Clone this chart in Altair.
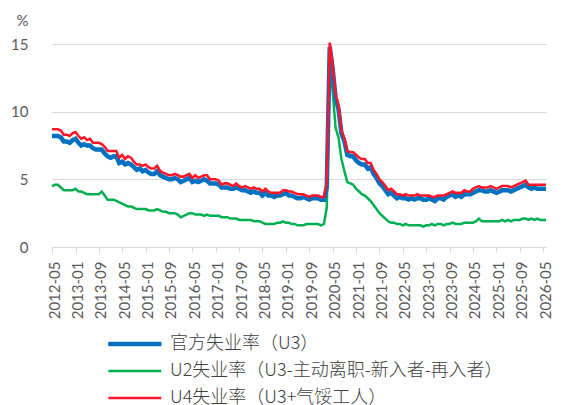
import altair as alt
import pandas as pd

# Monthly categories 2012-05 .. 2026-06
months = [d.strftime("%Y-%m-%d") for d in pd.date_range("2012-05-01", "2026-06-01", freq="MS")]

tick_labels = ["2012-05", "2013-01", "2013-09", "2014-05", "2015-01", "2015-09", "2016-05",
               "2017-01", "2017-09", "2018-05", "2019-01", "2019-09", "2020-05", "2021-01",
               "2021-09", "2022-05", "2023-01", "2023-09", "2024-05", "2025-01", "2025-09",
               "2026-05"]

# 官方失业率 U3
u3 = [
    8.2, 8.2, 8.2, 8.1, 7.8, 7.8, 7.7, 7.9,
    8.0, 7.7, 7.5, 7.6, 7.5, 7.5, 7.3, 7.2, 7.2, 7.2, 6.9, 6.7,
    6.6, 6.7, 6.7, 6.2, 6.3, 6.1, 6.2, 6.1, 5.9, 5.7, 5.8, 5.6,
    5.7, 5.5, 5.4, 5.4, 5.6, 5.3, 5.2, 5.1, 5.0, 5.0, 5.1, 5.0,
    4.8, 4.9, 5.0, 5.1, 4.8, 4.9, 4.8, 4.9, 5.0, 4.9, 4.7, 4.7,
    4.7, 4.6, 4.4, 4.4, 4.4, 4.3, 4.3, 4.4, 4.3, 4.2, 4.2, 4.1,
    4.0, 4.1, 4.0, 4.0, 3.8, 4.0, 3.8, 3.8, 3.7, 3.8, 3.8, 3.9,
    4.0, 3.8, 3.8, 3.7, 3.6, 3.6, 3.7, 3.6, 3.5, 3.6, 3.6, 3.6,
    3.5, 3.5, 4.4, 14.8, 13.2, 11.0, 10.2, 8.4, 7.8, 6.8, 6.7, 6.7,
    6.4, 6.2, 6.1, 6.1, 5.8, 5.9, 5.4, 5.1, 4.7, 4.5, 4.2, 3.9,
    4.0, 3.8, 3.6, 3.7, 3.6, 3.6, 3.5, 3.6, 3.5, 3.6, 3.6, 3.5,
    3.5, 3.6, 3.5, 3.4, 3.6, 3.6, 3.5, 3.7, 3.8, 3.9, 3.7, 3.8,
    3.7, 3.9, 3.9, 3.9, 4.0, 4.1, 4.2, 4.2, 4.1, 4.1, 4.2, 4.1,
    4.0, 4.1, 4.2, 4.2, 4.2, 4.1, 4.2, 4.3, 4.4, 4.5, 4.6, 4.4,
    4.3, 4.4, 4.3, 4.3, 4.3, 4.3,
]

# U2失业率
u2 = [
    4.5, 4.6, 4.6, 4.4, 4.2, 4.2, 4.2, 4.2,
    4.3, 4.1, 4.1, 4.0, 3.9, 3.9, 3.9, 3.9, 3.9, 4.1, 3.8, 3.5,
    3.5, 3.5, 3.4, 3.3, 3.2, 3.1, 3.0, 3.0, 2.9, 2.8, 2.8, 2.8,
    2.8, 2.7, 2.7, 2.7, 2.8, 2.7, 2.6, 2.6, 2.5, 2.5, 2.5, 2.4,
    2.2, 2.3, 2.4, 2.5, 2.5, 2.4, 2.4, 2.4, 2.3, 2.4, 2.3, 2.3,
    2.3, 2.3, 2.2, 2.2, 2.2, 2.1, 2.1, 2.1, 2.0, 2.0, 2.0, 2.0,
    2.0, 1.9, 1.9, 1.9, 1.8, 1.7, 1.7, 1.7, 1.7, 1.8, 1.8, 1.9,
    1.8, 1.8, 1.7, 1.7, 1.6, 1.6, 1.6, 1.7, 1.7, 1.7, 1.7, 1.7,
    1.6, 1.7, 2.9, 13.2, 11.6, 8.8, 8.1, 6.5, 5.6, 4.8, 4.7, 4.6,
    4.3, 4.1, 3.9, 3.8, 3.6, 3.4, 3.1, 2.8, 2.5, 2.3, 2.1, 1.9,
    1.8, 1.8, 1.7, 1.7, 1.6, 1.7, 1.6, 1.6, 1.6, 1.6, 1.6, 1.5,
    1.6, 1.6, 1.7, 1.6, 1.7, 1.7, 1.6, 1.7, 1.7, 1.8, 1.7, 1.7,
    1.7, 1.8, 1.8, 1.8, 1.8, 1.9, 2.1, 1.9, 1.9, 1.9, 1.9, 1.9,
    1.9, 1.9, 2.0, 1.9, 2.0, 1.9, 2.0, 2.0, 2.0, 2.1, 2.1, 2.0,
    2.1, 2.0, 2.1, 2.0, 2.0, 2.0,
]

# U4失业率
u4 = [
    8.7, 8.7, 8.7, 8.6, 8.3, 8.3, 8.2, 8.4,
    8.5, 8.2, 8.0, 8.1, 7.9, 8.0, 7.7, 7.7, 7.7, 7.6, 7.4, 7.1,
    7.1, 7.1, 7.1, 6.6, 6.8, 6.5, 6.7, 6.6, 6.3, 6.1, 6.1, 6.0,
    6.1, 5.9, 5.8, 5.8, 6.0, 5.6, 5.5, 5.4, 5.3, 5.3, 5.4, 5.3,
    5.2, 5.2, 5.3, 5.4, 5.1, 5.3, 5.1, 5.2, 5.3, 5.3, 5.0, 5.0,
    5.0, 4.9, 4.6, 4.7, 4.7, 4.6, 4.5, 4.7, 4.5, 4.4, 4.5, 4.4,
    4.3, 4.4, 4.3, 4.3, 4.1, 4.3, 4.1, 4.0, 4.0, 4.0, 4.0, 4.2,
    4.2, 4.1, 4.1, 4.0, 3.9, 3.9, 3.9, 3.8, 3.7, 3.8, 3.8, 3.8,
    3.7, 3.7, 4.7, 15.1, 13.5, 11.3, 10.5, 8.6, 8.0, 7.1, 7.0, 7.0,
    6.8, 6.6, 6.5, 6.5, 6.2, 6.2, 5.7, 5.4, 5.0, 4.8, 4.5, 4.2,
    4.3, 4.1, 3.9, 3.9, 3.8, 3.9, 3.8, 3.8, 3.8, 3.9, 3.8, 3.8,
    3.8, 3.8, 3.7, 3.7, 3.8, 3.8, 3.8, 3.9, 4.0, 4.1, 4.0, 4.0,
    4.0, 4.2, 4.1, 4.1, 4.3, 4.4, 4.5, 4.4, 4.4, 4.4, 4.5, 4.4,
    4.3, 4.4, 4.5, 4.5, 4.5, 4.4, 4.5, 4.6, 4.7, 4.8, 4.9, 4.6,
    4.6, 4.6, 4.6, 4.6, 4.6, 4.6,
]

name_u3 = "官方失业率（U3）"
name_u2 = "U2失业率（U3-主动离职-新入者-再入者）"
name_u4 = "U4失业率（U3+气馁工人）"
series_names = [name_u3, name_u2, name_u4]
series_colors = ["#0070C0", "#00B050", "#FF1428"]

rows = []
for name, vals in [(name_u2, u2), (name_u3, u3), (name_u4, u4)]:
    for m, v in zip(months, vals):
        rows.append({"date": m, "series": name, "line": name, "value": v})
df = pd.DataFrame(rows)


def dt(s):
    y, m = s.split("-")
    return alt.DateTime(year=int(y), month=int(m), date=1, utc=True)


x_enc = alt.X(
    "date:T",
    scale=alt.Scale(type="utc", domain=[dt("2012-05"), dt("2026-06")], nice=False),
    axis=alt.Axis(
        values=[dt(t) for t in tick_labels], labelExpr="utcFormat(datum.value, '%Y-%m')",
        labelAngle=270, labelAlign="right", labelBaseline="middle",
        labelPadding=9, labelOffset=2, tickSize=5, tickColor="#d9d9d9", domainColor="#d9d9d9",
        grid=False, labelFont="Lato", labelFontSize=15, labelColor="#595959",
        labelOverlap=False, labelFlush=False, title=None,
    ),
)
y_enc = alt.Y(
    "value:Q",
    scale=alt.Scale(domain=[0, 15], nice=False),
    axis=alt.Axis(
        values=[0, 5, 10, 15], domain=False, ticks=False, grid=True, gridColor="#d9d9d9",
        labelPadding=24, labelFont="Lato", labelFontSize=15, labelColor="#595959",
        title="%", titleAngle=0, titleX=-30, titleY=-24, titleFont="Lato",
        titleFontSize=15, titleColor="#595959", titleFontWeight="normal",
        titleAlign="center", titleBaseline="middle",
    ),
)

LEG_X, LEG_Y = 95, 291
common = dict(
    title=None, orient="none", legendX=LEG_X, legendY=LEG_Y, direction="vertical",
    symbolType="M-9,0L1,0", symbolSize=112,
    labelFont="Noto Sans CJK SC", labelFontSize=18, labelFontWeight=300,
    labelOffset=5, rowPadding=9, padding=0, labelLimit=500,
)
color_legend = alt.Legend(values=series_names, symbolStrokeWidth=2.5,
                          labelColor="#404040", **common)
# overlay: thicker blue symbol for the U3 entry
width_legend = alt.Legend(values=[name_u3], symbolStrokeColor="#0070C0",
                          labelColor="#404040", labelOpacity=0, **common)

color_enc = alt.Color("series:N", scale=alt.Scale(domain=series_names, range=series_colors),
                      legend=color_legend)
# thin lines for U2/U4, thick for U3 (point scale; padding entries keep U4 near the thin end)
width_domain = [name_u2, name_u4] + ["~%d" % i for i in range(40)] + [name_u3]
width_enc = alt.StrokeWidth("line:N",
                            scale=alt.Scale(type="point", domain=width_domain, range=[2.5, 4.5], padding=0),
                            legend=width_legend)

base = alt.Chart(df).encode(x=x_enc, y=y_enc, color=color_enc, strokeWidth=width_enc)
green = base.transform_filter(alt.datum.series == name_u2).mark_line()
blue = base.transform_filter(alt.datum.series == name_u3).mark_line()
red = base.transform_filter(alt.datum.series == name_u4).mark_line()

chart = alt.layer(green, blue, red).properties(
    width=494, height=203,
    autosize="none",
    padding={"left": 44, "top": 36, "right": 8, "bottom": 158},
).configure_view(stroke=None)

chart.save("out.html", embed_options={"renderer": "svg", "actions": False})
